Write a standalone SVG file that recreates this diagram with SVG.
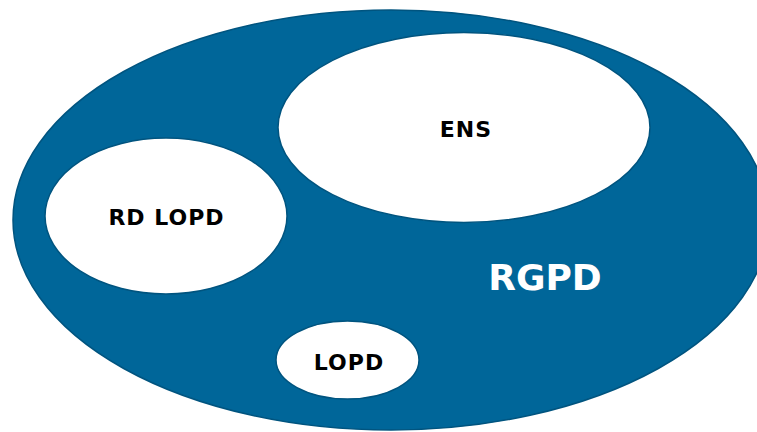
<svg xmlns="http://www.w3.org/2000/svg" width="757" height="432" viewBox="0 0 757 432">
<style>
.outer{fill:#006699;stroke:#00547f;stroke-width:1.5}
.inner{fill:#ffffff;stroke:#00547f;stroke-width:1.5}
.lbl{font-family:"DejaVu Sans",Verdana,sans-serif;font-weight:bold;font-size:22px;fill:#000;text-anchor:middle;letter-spacing:1px}
.big{font-family:"DejaVu Sans",Verdana,sans-serif;font-weight:bold;font-size:36px;fill:#fff;text-anchor:middle}
</style>
<rect width="757" height="432" fill="#ffffff"/>
<g id="rgpd">
<ellipse class="outer" cx="391" cy="220" rx="378" ry="210"/>
<text class="big" x="545" y="290">RGPD</text>
</g>
<g id="ens">
<ellipse class="inner" cx="464" cy="127.5" rx="186" ry="95"/>
<text class="lbl" x="466" y="137">ENS</text>
</g>
<g id="rdlopd">
<ellipse class="inner" cx="166" cy="216" rx="121" ry="78"/>
<text class="lbl" x="166.5" y="225">RD LOPD</text>
</g>
<g id="lopd">
<ellipse class="inner" cx="347.5" cy="360" rx="71.5" ry="39"/>
<text class="lbl" x="349" y="370">LOPD</text>
</g>
<g id="connectors"></g>
</svg>
